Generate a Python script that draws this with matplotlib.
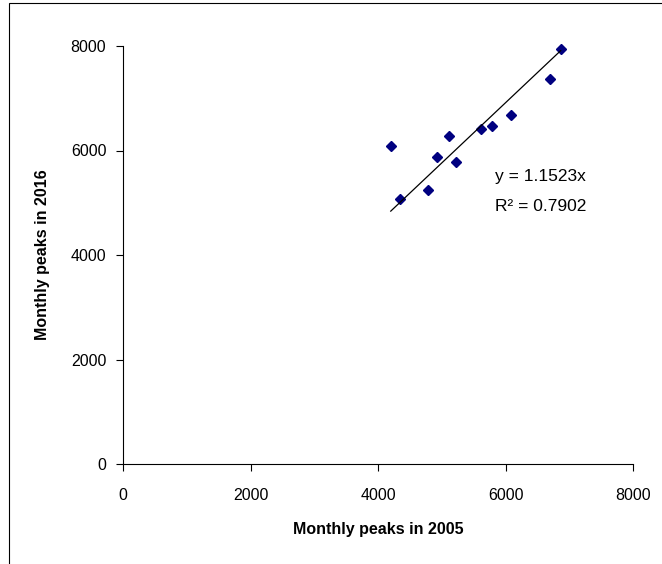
import numpy as np
import matplotlib
matplotlib.use("Agg")
import matplotlib.pyplot as plt
from matplotlib.patches import Rectangle

plt.rcParams['font.family'] = ['Liberation Sans', 'DejaVu Sans']

# Monthly peaks
peaks_2005 = [6866, 6693, 6082, 5793, 5620, 5120, 4200, 4930, 5227, 4784, 4345]
peaks_2016 = [7943, 7368, 6679, 6475, 6410, 6270, 6090, 5875, 5785, 5245, 5070]

# Trendline through origin as given on the chart
slope = 1.1523
r_squared = 0.7902

ticks = [0, 2000, 4000, 6000, 8000]

fig = plt.figure(figsize=(6.62, 5.64), dpi=100)
ax = fig.add_axes([123 / 662, 1 - 464 / 564, 510 / 662, 418 / 564])

# Scatter of the monthly peaks
ax.plot(peaks_2005, peaks_2016, 'D', color='#000080', markersize=5, linestyle='none', clip_on=False)

# Linear trendline over the data range
xs = np.array([min(peaks_2005), max(peaks_2005)])
ax.plot(xs, slope * xs, color='black', linewidth=0.9)

ax.text(0.729, 0.687, f"y = {slope}x", transform=ax.transAxes, fontsize=12.5, va='center')
ax.text(0.729, 0.617, f"R\u00b2 = {r_squared}", transform=ax.transAxes, fontsize=12.5, va='center')

ax.set_xlim(0, 8000)
ax.set_ylim(0, 8000)
ax.set_xticks(ticks)
ax.set_yticks(ticks)
ax.tick_params(direction='out', length=5, width=0.8, labelsize=11.5)
ax.tick_params(axis='x', pad=12)
ax.tick_params(axis='y', pad=7)

ax.spines['top'].set_visible(False)
ax.spines['right'].set_visible(False)
ax.spines['left'].set_linewidth(0.8)
ax.spines['bottom'].set_linewidth(0.8)

ax.set_xlabel("Monthly peaks in 2005", fontsize=11.5, fontweight='bold', labelpad=14)
ax.set_ylabel("Monthly peaks in 2016", fontsize=11.5, fontweight='bold', labelpad=15)

# Outer chart-area frame (only left and top edges fall inside the image)
fig.patches.append(Rectangle((9 / 662, -0.1), 1.2, 1.1 - 3 / 564,
                             transform=fig.transFigure, fill=False,
                             edgecolor='black', linewidth=0.8))

fig.savefig("out.png", dpi=100)
